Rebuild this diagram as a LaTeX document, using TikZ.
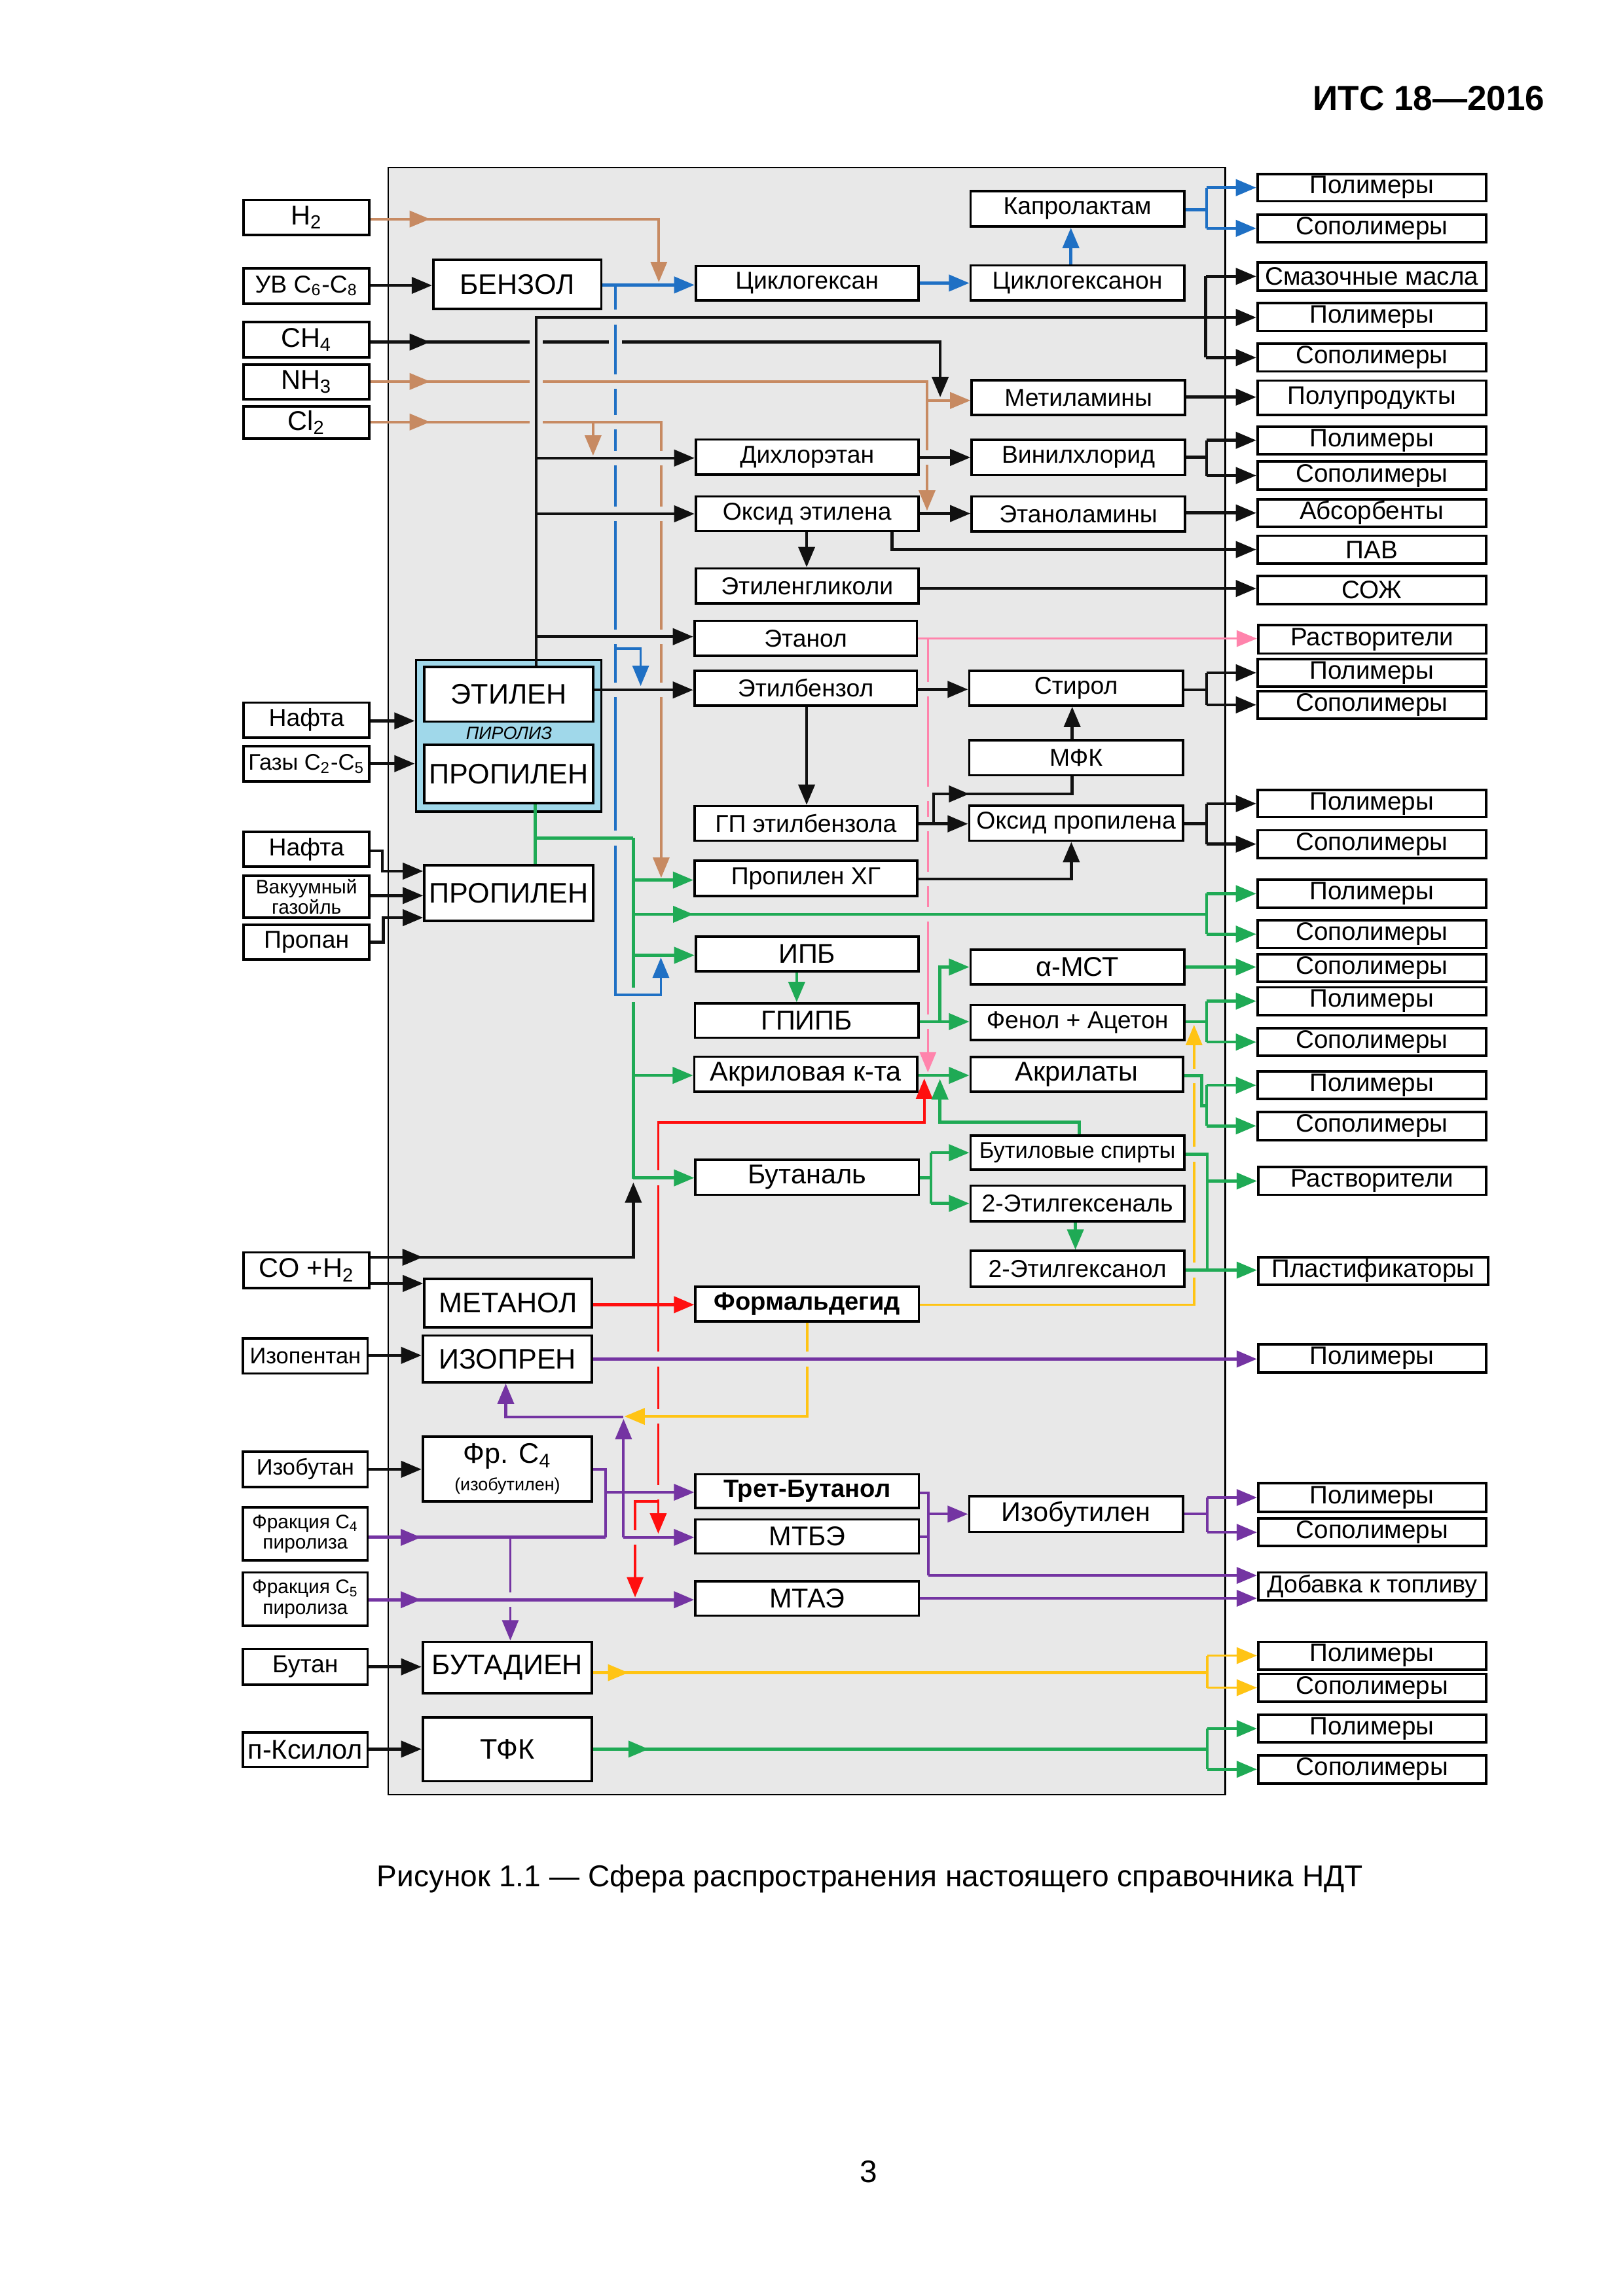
\documentclass[tikz,border=0pt]{standalone}
\usepackage{fontspec}
\setmainfont{Liberation Sans}
\usetikzlibrary{arrows.meta,fit}
\definecolor{bg}{HTML}{E8E8E8}
\definecolor{cblue}{HTML}{1F70C4}
\definecolor{cbrown}{HTML}{C78A62}
\definecolor{cgreen}{HTML}{1FAA55}
\definecolor{cpink}{HTML}{FF84AC}
\definecolor{cred}{HTML}{FF0F0F}
\definecolor{cyel}{HTML}{FFC414}
\definecolor{cpurp}{HTML}{7434A2}
\definecolor{cpyro}{HTML}{A0D8EA}
\definecolor{cblk}{HTML}{111111}
\newcommand\mybox[5][]{\node[bxs,fit={(#3)(#4)}] (#2) {};\node[lbl,#1] (#2-t) at (#2.center) {#5};}
\newcommand\gapv[2]{\fill[bg] (#1-2.6,#2-5) rectangle (#1+2.6,#2+5);}
\newcommand\gaph[2]{\fill[bg] (#1-4.5,#2-2.6) rectangle (#1+4.5,#2+2.6);}
\begin{document}
\begin{tikzpicture}[x=0.018953cm,y=-0.018953cm,
  bxs/.style={draw=black,line width=0.9pt,fill=white,inner sep=0pt},
  lbl/.style={inner sep=0pt,align=center,font=\fontsize{9}{10}\selectfont},
  fo/.style={font=\fontsize{9.3}{10}\selectfont},
  f10/.style={font=\fontsize{10}{11}\selectfont},
  f8/.style={font=\fontsize{8.3}{9}\selectfont},
  f7/.style={font=\fontsize{7.2}{7.6}\selectfont},
  big/.style={font=\fontsize{10.4}{11}\selectfont},
  bd/.style={font=\fontsize{9.2}{10}\selectfont\bfseries},
  ar/.style={-{Triangle[length=7.5pt,width=6pt]}},
  bk/.style={draw=cblk,line width=1.1pt},
  bl/.style={draw=cblue,line width=1.1pt},
  bro/.style={draw=cbrown,line width=0.9pt},
  gr/.style={draw=cgreen,line width=1.1pt},
  pk/.style={draw=cpink,line width=0.8pt},
  rd/.style={draw=cred,line width=0.9pt},
  ye/.style={draw=cyel,line width=0.9pt},
  pu/.style={draw=cpurp,line width=1pt}]
\fill[white] (0,0) rectangle (1108,1568);
\useasboundingbox (0,0) rectangle (1108,1568);
\node[anchor=east,inner sep=0pt,font=\fontsize{12.8}{14}\selectfont\bfseries] (hdr) at (1055,67) {ИТС 18—2016};
\draw[fill=bg,line width=0.6pt] (265,114.5) rectangle (836.4,1225.5);
% ---------- inputs
\mybox[f10]{iH2}{166.4,136.5}{252.1,160.5}{H\textsubscript{2}}
\mybox{iUV}{166.4,183.2}{252.1,207.3}{УВ C\textsubscript{6}-C\textsubscript{8}}
\mybox[f10]{iCH4}{166.4,219.9}{252.1,244.1}{CH\textsubscript{4}}
\mybox[f10]{iNH3}{166.4,248.9}{252.1,272.8}{NH\textsubscript{3}}
\mybox[f10]{iCl2}{166.4,277.6}{252.1,299.5}{Cl\textsubscript{2}}
\mybox{iNaf1}{166.4,479.8}{252.1,503.7}{Нафта}
\mybox[f8]{iGaz}{166.4,509.4}{252.1,533.6}{Газы C\textsubscript{2}-C\textsubscript{5}}
\mybox{iNaf2}{166.4,568.0}{252.1,591.9}{Нафта}
\mybox[f7]{iVak}{166.4,598.0}{252.1,626.7}{Вакуумный\\газойль}
\mybox{iProp}{166.4,631.5}{252.1,655.1}{Пропан}
\mybox[f10]{iCO}{166.4,855.3}{252.1,879.5}{CO +H\textsubscript{2}}
\mybox[f8]{iIpent}{165.9,914.2}{251.0,938.0}{Изопентан}
\mybox[f8]{iIbut}{165.9,991.3}{251.0,1015.5}{Изобутан}
\mybox[f7]{iFC4}{165.9,1029.3}{251.0,1065.7}{Фракция C\textsubscript{4}\\пиролиза}
\mybox[f7]{iFC5}{165.9,1073.9}{251.0,1110.3}{Фракция C\textsubscript{5}\\пиролиза}
\mybox{iBut}{165.9,1126.2}{251.0,1150.4}{Бутан}
\mybox[f10]{iKsil}{165.9,1183.1}{251.0,1206.6}{п-Ксилол}
% ---------- inner big boxes
\node[fill=cpyro,draw=black,line width=0.9pt,inner sep=0pt,fit={(284.0,450.8)(410.6,554.3)}] (pyro) {};
\mybox[big]{nBenz}{295.8,177.4}{410.6,211.0}{БЕНЗОЛ}
\mybox[big]{nEth}{289.7,455.6}{405.0,492.8}{ЭТИЛЕН}
\node[inner sep=0pt,font=\fontsize{6.5}{7}\selectfont\itshape] (pyt) at (347.5,500.7) {ПИРОЛИЗ};
\mybox[big]{nProp1}{289.7,508.5}{405.0,548.6}{ПРОПИЛЕН}
\mybox[big]{nProp2}{289.7,590.9}{405.0,628.9}{ПРОПИЛЕН}
\mybox[big]{nMeth}{289.7,873.4}{404.2,906.4}{МЕТАНОЛ}
\mybox[big]{nIsop}{288.6,912.0}{404.2,944.0}{ИЗОПРЕН}
\mybox[big]{nFrC4}{288.6,981.2}{404.2,1025.2}{Фр. C\textsubscript{4}\\[-1pt]{\fontsize{6.5}{7}\selectfont(изобутилен)}}
\mybox[big]{nButad}{288.6,1121.2}{404.2,1156.3}{БУТАДИЕН}
\mybox[big]{nTFK}{288.6,1172.9}{404.2,1216.4}{ТФК}
% ---------- middle column
\mybox{mCyh}{475.0,181.7}{627.0,205.1}{Циклогексан}
\mybox{mDich}{475.0,300.2}{627.0,323.9}{Дихлорэтан}
\mybox{mOxE}{475.0,339.0}{627.0,362.7}{Оксид этилена}
\mybox{mGly}{475.0,388.2}{627.0,412.2}{Этиленгликоли}
\mybox{mEtOH}{474.1,424.0}{626.0,448.0}{Этанол}
\mybox{mEtBz}{474.1,458.2}{626.0,481.7}{Этилбензол}
\mybox{mGP}{474.1,550.5}{626.2,574.1}{ГП этилбензола}
\mybox{mPHG}{474.2,587.8}{626.2,611.9}{Пропилен ХГ}
\mybox[f10]{mIPB}{475.0,639.5}{627.0,663.2}{ИПБ}
\mybox[f10]{mGPIPB}{474.5,685.3}{627.0,708.7}{ГПИПБ}
\mybox[f10]{mAcr}{474.0,721.6}{626.3,745.4}{Акриловая к-та}
\mybox[f10]{mBnl}{474.8,792.1}{627.3,816.0}{Бутаналь}
\mybox[bd]{mForm}{474.8,878.6}{627.3,902.4}{Формальдегид}
\mybox[bd]{mTBA}{474.8,1006.8}{627.3,1029.9}{Трет-Бутанол}
\mybox[f10]{mMTBE}{474.8,1037.6}{627.3,1060.9}{МТБЭ}
\mybox[f10]{mMTAE}{474.8,1079.9}{627.3,1103.3}{МТАЭ}
% ---------- right-middle column
\mybox{rKap}{662.6,130.4}{808.5,154.7}{Капролактам}
\mybox{rCyo}{662.6,181.3}{808.5,205.2}{Циклогексанон}
\mybox{rMet}{663.4,259.6}{809.0,283.5}{Метиламины}
\mybox{rVin}{663.4,300.4}{809.0,324.3}{Винилхлорид}
\mybox{rEta}{663.4,339.0}{809.0,362.9}{Этаноламины}
\mybox{rSty}{661.7,458.3}{807.6,481.8}{Стирол}
\mybox{rMFK}{661.7,505.5}{807.6,529.4}{МФК}
\mybox{rOxP}{661.7,550.1}{807.6,574.1}{Оксид пропилена}
\mybox[f10]{rAMS}{662.6,648.6}{808.5,672.3}{α-МСТ}
\mybox{rPhe}{662.6,686.3}{808.5,710.1}{Фенол + Ацетон}
\mybox[f10]{rAcl}{662.6,721.9}{807.6,745.6}{Акрилаты}
\mybox[f8]{rBOH}{662.6,775.5}{808.5,798.9}{Бутиловые спирты}
\mybox{rEHa}{662.6,809.7}{808.5,834.0}{2-Этилгексеналь}
\mybox{rEHo}{662.6,854.3}{808.5,878.7}{2-Этилгексанол}
\mybox[f10]{rIsb}{661.7,1021.9}{807.6,1046.1}{Изобутилен}
% ---------- outputs
\mybox[fo]{o1}{858.5,118.8}{1014.5,137.5}{Полимеры}
\mybox[fo]{o2}{858.5,146.6}{1014.5,165.3}{Сополимеры}
\mybox[fo]{o3}{858.5,179.2}{1014.5,198.3}{Смазочные масла}
\mybox[fo]{o4}{858.5,207.0}{1014.5,225.9}{Полимеры}
\mybox[fo]{o5}{858.5,234.7}{1014.5,253.7}{Сополимеры}
\mybox[fo]{o6}{858.5,259.9}{1014.5,283.5}{Полупродукты}
\mybox[fo]{o7}{858.5,291.3}{1014.5,310.1}{Полимеры}
\mybox[fo]{o8}{858.5,315.2}{1014.5,334.3}{Сополимеры}
\mybox[fo]{o9}{858.5,340.9}{1014.5,359.7}{Абсорбенты}
\mybox[fo]{o10}{858.5,365.9}{1014.5,384.8}{ПАВ}
\mybox[fo]{o11}{858.5,393.4}{1014.5,412.6}{СОЖ}
\mybox[fo]{o12}{859.0,426.9}{1014.5,446.3}{Растворители}
\mybox[fo]{o13}{858.5,450.0}{1014.5,468.9}{Полимеры}
\mybox[fo]{o14}{858.5,471.9}{1014.5,490.8}{Сополимеры}
\mybox[fo]{o15}{858.5,539.5}{1014.5,558.1}{Полимеры}
\mybox[fo]{o16}{858.5,567.0}{1014.5,585.9}{Сополимеры}
\mybox[fo]{o17}{858.5,600.7}{1014.5,619.9}{Полимеры}
\mybox[fo]{o18}{858.5,628.5}{1014.5,647.4}{Сополимеры}
\mybox[fo]{o19}{858.5,651.6}{1014.5,670.5}{Сополимеры}
\mybox[fo]{o20}{858.5,674.3}{1014.5,693.1}{Полимеры}
\mybox[fo]{o21}{858.5,702.2}{1014.5,721.1}{Сополимеры}
\mybox[fo]{o22}{858.5,731.7}{1014.5,750.6}{Полимеры}
\mybox[fo]{o23}{858.5,759.3}{1014.5,778.5}{Сополимеры}
\mybox[fo]{o24}{859.0,797.1}{1014.5,816.0}{Растворители}
\mybox[fo]{o25}{859.0,858.5}{1015.9,877.5}{Пластификаторы}
\mybox[fo]{o26}{859.0,918.0}{1014.5,937.2}{Полимеры}
\mybox[fo]{o27}{859.0,1012.9}{1014.5,1032.5}{Полимеры}
\mybox[fo]{o28}{859.0,1037.0}{1014.5,1055.9}{Сополимеры}
\mybox{o29}{859.0,1073.9}{1014.5,1092.8}{Добавка к топливу}
\mybox[fo]{o30}{859.0,1121.2}{1014.5,1140.1}{Полимеры}
\mybox[fo]{o31}{859.0,1143.1}{1014.5,1162.0}{Сополимеры}
\mybox[fo]{o32}{859.0,1171.1}{1014.5,1189.9}{Полимеры}
\mybox[fo]{o33}{859.0,1198.7}{1014.5,1217.9}{Сополимеры}
% ========== LAYER A: CH4 (under)
\draw[bk,ar] (iCH4.east|-0,233.6) -- (641.9,233.6) -- (641.9,271.3);
\gaph{366}{233.6} \gaph{420.3}{233.6}
% ========== LAYER B: green trunk
\draw[gr] (432.4,572.3) -- (432.4,804.9);
\gapv{432.4}{679.5}
% ========== LAYER C: blue
\draw[bl,ar] (nBenz.east|-0,194.6) -- (mCyh.west|-0,194.6);
\draw[bl,line width=0.9pt,ar] (420.3,194.6) -- (420.3,679.5) -- (451.2,679.5) -- (451.2,653.9);
\draw[bl,line width=0.9pt,ar] (420.3,443) -- (437.4,443) -- (437.4,468.5);
\gapv{420.3}{216.6} \gapv{420.3}{260.5} \gapv{420.3}{288.2} \gapv{420.3}{312.8}
\gapv{420.3}{350.9} \gapv{420.3}{434.8} \gapv{420.3}{471.2} \gapv{420.3}{572.3}
% ========== LAYER D: brown
\draw[bro,ar] (iH2.east|-0,149.6) -- (449.8,149.6) -- (449.8,192.7);
\draw[bro,ar] (iNH3.east|-0,260.5) -- (632.9,260.5) -- (632.9,348.8);
\draw[bro,ar] (632.9,273.5) -- (rMet.west|-0,273.5);
\draw[bro,ar] (iCl2.east|-0,288.2) -- (451.4,288.2) -- (451.4,599.5);
\draw[bro,ar] (404.9,288.2) -- (404.9,311.2);
\draw[bro,ar] (279,149.6) -- (293.6,149.6);
\draw[bro,ar] (279,260.5) -- (293.6,260.5);
\draw[bro,ar] (279,288.2) -- (293.6,288.2);
\draw[bk,ar] (279,233.6) -- (293.6,233.6);
\gaph{366}{260.5} \gaph{366}{288.2}
\gapv{451.4}{312.8} \gapv{451.4}{350.9} \gapv{451.4}{434.8} \gapv{451.4}{471.2}
\gapv{632.9}{312.5}
% ========== LAYER E: pink, red, yellow, purple verticals
\draw[pk,ar] (mEtOH.east|-0,436.1) -- (o12.west|-0,436.1);
\draw[pk,ar] (633.5,436.1) -- (633.5,732.4);
\gapv{633.5}{470.8} \gapv{633.5}{542.2} \gapv{633.5}{562.6} \gapv{633.5}{600.2} \gapv{633.5}{624.4} \gapv{633.5}{697.7}
\draw[rd,line width=1.2pt,ar] (nMeth.east|-0,891) -- (mForm.west|-0,891);
\draw[rd,ar] (449.4,891) -- (449.4,766.5) -- (631.0,766.5) -- (631.0,736.5);
\draw[rd,ar] (449.4,891) -- (449.4,1047.4);
\draw[rd,ar] (449.4,1025.5) -- (433.6,1025.5) -- (433.6,1090.9);
\gapv{449.4}{804.4} \gapv{449.4}{928.1} \gapv{449.4}{967.3} \gapv{449.4}{1019.1} \gapv{433.6}{1049.9}
\draw[ye,ar] (mForm.east|-0,891.1) -- (815.2,891.1) -- (815.2,699.9);
\draw[ye,ar] (mForm.south) -- (mForm.south|-0,967.3) -- (426.3,967.3);
\gapv{551.05}{928.1} \gapv{815.2}{734.7} \gapv{815.2}{788.3} \gapv{815.2}{867.4}
\draw[pu,line width=0.8pt,ar] (348.4,1049.9) -- (nButad.north-|348.4,0);
\gapv{348.4}{1092.5}
% ========== LAYER F: the rest
% ethylene
\draw[bk,ar] (nEth.north-|366,0) -- (366,216.8) -- (o4.west|-0,216.8);
\draw[bk] (o3.west-|823.2,0) -- (o5.west-|823.2,0);
\draw[bk,ar] (o3.west-|823.2,0) -- (o3.west);
\draw[bk,ar] (o5.west-|823.2,0) -- (o5.west);
\draw[bk,ar] (366,312.8) -- (mDich.west|-0,312.8);
\draw[bk,ar] (366,350.9) -- (mOxE.west|-0,350.9);
\draw[bk,ar] (366,434.8) -- (mEtOH.west|-0,434.8);
\draw[bk,ar] (nEth.east|-0,471.2) -- (mEtBz.west|-0,471.2);
% benzene chain
\draw[bk,ar] (iUV.east|-0,194.9) -- (nBenz.west|-0,194.9);
\draw[bl,ar] (mCyh.east|-0,193.3) -- (rCyo.west|-0,193.3);
\draw[bl,ar] (rCyo.north-|731.1,0) -- (rKap.south-|731.1,0);
\draw[bl] (rKap.east|-0,143.3) -- (823.7,143.3);
\draw[bl] (o1.west-|823.7,0) -- (o2.west-|823.7,0);
\draw[bl,ar] (o1.west-|823.7,0) -- (o1.west);
\draw[bl,ar] (o2.west-|823.7,0) -- (o2.west);
% black middle
\draw[bk,ar] (rMet.east|-0,271.2) -- (o6.west|-0,271.2);
\draw[bk,ar] (mDich.east|-0,312.4) -- (rVin.west|-0,312.4);
\draw[bk] (rVin.east|-0,312.3) -- (823.7,312.3);
\draw[bk] (o7.west-|823.7,0) -- (o8.west-|823.7,0);
\draw[bk,ar] (o7.west-|823.7,0) -- (o7.west);
\draw[bk,ar] (o8.west-|823.7,0) -- (o8.west);
\draw[bk,ar] (mOxE.east|-0,350.7) -- (rEta.west|-0,350.7);
\draw[bk,ar] (rEta.east|-0,350.3) -- (o9.west|-0,350.3);
\draw[bk,ar] (mOxE.south-|609,0) -- (609,375.3) -- (o10.west|-0,375.3);
\draw[bk,ar] (mOxE.south-|550.7,0) -- (mGly.north-|550.7,0);
\draw[bk,ar] (mGly.east|-0,401.9) -- (o11.west|-0,401.9);
\draw[bk,ar] (mEtBz.east|-0,470.8) -- (rSty.west|-0,470.8);
\draw[bk,ar] (mEtBz.south-|550.7,0) -- (mGP.north-|550.7,0);
\draw[bk,ar] (rMFK.north-|732,0) -- (rSty.south-|732,0);
\draw[bk] (rSty.east|-0,471.2) -- (823.7,471.2);
\draw[bk] (o13.west-|823.7,0) -- (o14.west-|823.7,0);
\draw[bk,ar] (o13.west-|823.7,0) -- (o13.west);
\draw[bk,ar] (o14.west-|823.7,0) -- (o14.west);
\draw[bk,ar] (mGP.east|-0,562.6) -- (rOxP.west|-0,562.6);
\draw[bk] (637.4,562.6) -- (637.4,542.2) -- (732,542.2) -- (rMFK.south-|732,0);
\draw[bk,ar] (647,542.2) -- (661.7,542.2);
\draw[bk,ar] (mPHG.east|-0,600.2) -- (731.4,600.2) -- (rOxP.south-|731.4,0);
\draw[bk] (rOxP.east|-0,562.6) -- (823.7,562.6);
\draw[bk] (o15.west-|823.7,0) -- (o16.west-|823.7,0);
\draw[bk,ar] (o15.west-|823.7,0) -- (o15.west);
\draw[bk,ar] (o16.west-|823.7,0) -- (o16.west);
% pyrolysis inputs
\draw[bk,ar] (iNaf1.east|-0,492.3) -- (pyro.west|-0,492.3);
\draw[bk,ar] (iGaz.east|-0,521.5) -- (pyro.west|-0,521.5);
\draw[bk,ar] (iNaf2.east|-0,581) -- (261,581) -- (261,594.9) -- (nProp2.west|-0,594.9);
\draw[bk,ar] (iVak.east|-0,611.6) -- (nProp2.west|-0,611.6);
\draw[bk,ar] (iProp.east|-0,643.3) -- (261.8,643.3) -- (261.8,626.7) -- (nProp2.west|-0,626.7);
% green propylene
\draw[gr] (nProp1.south-|365.5,0) -- (nProp2.north-|365.5,0);
\draw[gr] (365.5,572.3) -- (432.4,572.3);
\draw[gr,ar] (432.4,601) -- (mPHG.west|-0,601);
\draw[gr] (432.4,624.4) -- (823.7,624.4);
\draw[gr,ar] (459,624.4) -- (473.4,624.4);
\draw[gr] (o17.west-|823.7,0) -- (o18.west-|823.7,0);
\draw[gr,ar] (o17.west-|823.7,0) -- (o17.west);
\draw[gr,ar] (o18.west-|823.7,0) -- (o18.west);
\draw[gr,ar] (432.4,652.4) -- (mIPB.west|-0,652.4);
\draw[gr,ar] (432.4,734.4) -- (mAcr.west|-0,734.4);
\draw[gr,ar] (432.4,804.4) -- (mBnl.west|-0,804.4);
\draw[gr,ar] (mIPB.south-|543.9,0) -- (mGPIPB.north-|543.9,0);
\draw[gr,ar] (mGPIPB.east|-0,697.7) -- (rPhe.west|-0,697.7);
\draw[gr,ar] (641.7,697.7) -- (641.7,660.4) -- (rAMS.west|-0,660.4);
\draw[gr,ar] (rAMS.east|-0,660.4) -- (o19.west|-0,660.4);
\draw[gr] (rPhe.east|-0,697.7) -- (823.7,697.7);
\draw[gr] (o20.west-|823.7,0) -- (o21.west-|823.7,0);
\draw[gr,ar] (o20.west-|823.7,0) -- (o20.west);
\draw[gr,ar] (o21.west-|823.7,0) -- (o21.west);
\draw[gr,ar] (mAcr.east|-0,734.4) -- (rAcl.west|-0,734.4);
\draw[gr] (rAcl.east|-0,734.7) -- (820.3,734.7) -- (820.3,755.1) -- (823.7,755.1);
\draw[gr] (o22.west-|823.7,0) -- (o23.west-|823.7,0);
\draw[gr,ar] (o22.west-|823.7,0) -- (o22.west);
\draw[gr,ar] (o23.west-|823.7,0) -- (o23.west);
\draw[gr,ar] (rBOH.north-|736.8,0) -- (736.8,766.4) -- (641.7,766.4) -- (641.7,736.9);
\draw[gr] (mBnl.east|-0,804.4) -- (635.6,804.4);
\draw[gr] (rBOH.west-|635.6,0) -- (rEHa.west-|635.6,0);
\draw[gr,ar] (rBOH.west-|635.6,0) -- (rBOH.west);
\draw[gr,ar] (rEHa.west-|635.6,0) -- (rEHa.west);
\draw[gr,ar] (rEHa.south-|734.2,0) -- (rEHo.north-|734.2,0);
\draw[gr] (rBOH.east|-0,788.3) -- (824.3,788.3) -- (824.3,867.4);
\draw[gr,ar] (o24.west-|824.3,0) -- (o24.west);
\draw[gr,ar] (rEHo.east|-0,867.4) -- (o25.west|-0,867.4);
% CO + H2 and other inputs
\draw[bk,ar] (iCO.east|-0,858.6) -- (432.4,858.6) -- (432.4,807.5);
\draw[bk,ar] (274,858.6) -- (288.6,858.6);
\draw[bk,ar] (iCO.east|-0,876.5) -- (nMeth.west|-0,876.5);
\draw[bk,ar] (iIpent.east|-0,925.6) -- (nIsop.west|-0,925.6);
\draw[bk,ar] (iIbut.east|-0,1003.4) -- (nFrC4.west|-0,1003.4);
\draw[bk,ar] (iBut.east|-0,1138.3) -- (nButad.west|-0,1138.3);
\draw[bk,ar] (iKsil.east|-0,1194.5) -- (nTFK.west|-0,1194.5);
% purple
\draw[pu,line width=1.2pt,ar] (nIsop.east|-0,928.1) -- (o26.west|-0,928.1);
\draw[pu,ar] (425.7,967.6) -- (345.3,967.6) -- (nIsop.south-|345.3,0);
\draw[pu,ar] (425.7,1049.9) -- (425.7,969);
\draw[pu] (nFrC4.east|-0,1003.4) -- (413.3,1003.4) -- (413.3,1049.9);
\draw[pu,line width=1.2pt] (iFC4.east|-0,1049.9) -- (413.3,1049.9);
\draw[pu,ar] (273,1049.9) -- (287.5,1049.9);
\draw[pu,ar] (413.3,1019.1) -- (mTBA.west|-0,1019.1);
\draw[pu,ar] (425.7,1049.9) -- (mMTBE.west|-0,1049.9);
\draw[pu,line width=1.2pt,ar] (iFC5.east|-0,1092.5) -- (mMTAE.west|-0,1092.5);
\draw[pu,ar] (273,1092.5) -- (287.5,1092.5);
\draw[pu] (mTBA.east|-0,1019.6) -- (633.8,1019.6) -- (633.8,1075.9);
\draw[pu,ar] (633.8,1075.9) -- (o29.west|-0,1075.9);
\draw[pu,ar] (633.8,1034) -- (rIsb.west|-0,1034);
\draw[pu] (mMTBE.east|-0,1049.4) -- (633.8,1049.4);
\draw[pu,ar] (mMTAE.east|-0,1091.5) -- (o29.west|-0,1091.5);
\draw[pu] (rIsb.east|-0,1034) -- (824.3,1034);
\draw[pu] (o27.west-|824.3,0) -- (o28.west-|824.3,0);
\draw[pu,ar] (o27.west-|824.3,0) -- (o27.west);
\draw[pu,ar] (o28.west-|824.3,0) -- (o28.west);
% butadiene
\draw[ye,line width=1.3pt] (nButad.east|-0,1142.3) -- (824.3,1142.3);
\draw[ye,ar] (414.5,1142.3) -- (429,1142.3);
\draw[ye,line width=1.1pt] (o30.west-|824.3,0) -- (o31.west-|824.3,0);
\draw[ye,ar] (o30.west-|824.3,0) -- (o30.west);
\draw[ye,ar] (o31.west-|824.3,0) -- (o31.west);
% TPA
\draw[gr] (nTFK.east|-0,1194.5) -- (824.3,1194.5);
\draw[gr,ar] (428.5,1194.5) -- (442.9,1194.5);
\draw[gr] (o32.west-|824.3,0) -- (o33.west-|824.3,0);
\draw[gr,ar] (o32.west-|824.3,0) -- (o32.west);
\draw[gr,ar] (o33.west-|824.3,0) -- (o33.west);
% caption and page number
\node[inner sep=0pt,font=\fontsize{11.1}{13}\selectfont] (cap) at (594,1283) {Рисунок 1.1 — Сфера распространения настоящего справочника НДТ};
\node[inner sep=0pt,font=\fontsize{11.5}{13}\selectfont] (pg) at (593,1483) {3};
\end{tikzpicture}
\end{document}
